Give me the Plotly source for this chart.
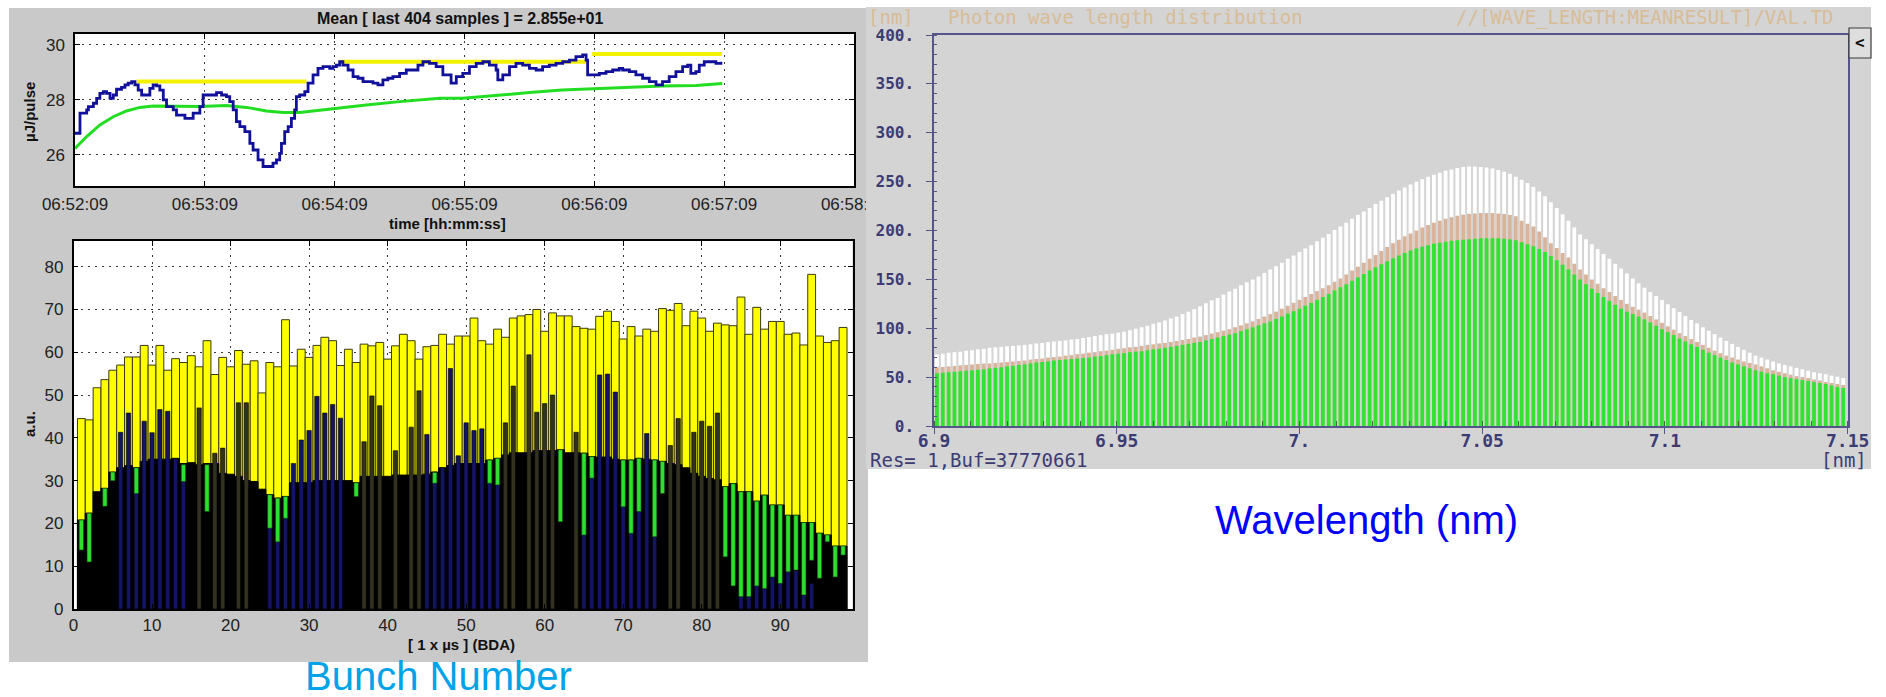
import plotly.graph_objects as go

W, H = 1886, 697

# ---------------- top-left: pulse energy vs. time ----------------
time_tick_sec = [0, 60, 120, 180, 240, 300, 360]
time_tick_lbl = ["06:52:09", "06:53:09", "06:54:09", "06:55:09", "06:56:09", "06:57:09", "06:58:09"]

blue_t = [0, 1.5, 2.3, 5.4, 6.2, 8.5, 10, 11.5, 13.1, 14.6, 16.2, 17.7, 19.2, 21.5, 23.1, 24.6, 26.2, 27.7,
          29.2, 30.8, 33.8, 34.6, 36.1, 37.7, 39.2, 40.8, 42.3, 45.4, 46.9, 49.2, 50.8, 53.1, 54.6, 57.7,
          59.2, 62.3, 65.4, 67.7, 70, 71.5, 73.1, 74.6, 76.2, 78.5, 80.8, 82.3, 84.6, 86.9, 90, 91.5, 93.1,
          94.6, 95.4, 96.9, 98.5, 100, 101.5, 102.3, 103.8, 106.2, 107.7, 110, 112.3, 114.6, 117.7, 119.2,
          120.8, 122.3, 123.8, 126.2, 128.5, 130.8, 133.1, 135.4, 137.7, 140, 142.3, 144.6, 146.9, 150,
          153.1, 156.1, 158.5, 160.8, 163.8, 166.9, 170, 173.8, 176.2, 179.2, 182.3, 185.4, 188.5, 191.5,
          194.6, 195.4, 197.7, 200.8, 203.8, 206.9, 210, 213.1, 216.1, 219.2, 222.3, 225.4, 228.5, 231.5,
          234.6, 236.2, 236.9, 239.2, 242.3, 245.4, 248.5, 251.5, 253.1, 256.2, 259.2, 262.3, 265.4, 268.5,
          271.5, 274.6, 277.7, 280.8, 283.1, 284.6, 286.9, 288.5, 290.8, 293.1, 296.2, 298.5]
blue_v = [26.79, 26.79, 27.52, 27.64, 27.76, 27.88, 28.06, 28.24, 28.3, 28.24, 28.06, 28.18, 28.39, 28.46,
          28.55, 28.61, 28.67, 28.55, 28.36, 28.18, 28.18, 28.42, 28.55, 28.51, 28.36, 28.0, 27.76, 27.64,
          27.45, 27.45, 27.33, 27.33, 27.52, 27.76, 28.18, 28.18, 28.27, 28.18, 28.12, 27.94, 27.64, 27.21,
          27.03, 26.85, 26.42, 26.18, 25.82, 25.58, 25.58, 25.7, 25.82, 26.06, 26.42, 26.85, 27.03, 27.33,
          27.64, 28.12, 28.18, 28.3, 28.61, 28.91, 29.15, 29.21, 29.15, 29.21, 29.27, 29.39, 29.27, 29.09,
          28.85, 28.79, 28.67, 28.67, 28.61, 28.55, 28.73, 28.79, 28.85, 28.97, 29.09, 29.09, 29.27, 29.39,
          29.33, 29.21, 28.91, 28.61, 28.85, 28.97, 29.21, 29.33, 29.39, 29.27, 29.09, 28.73, 28.91, 29.21,
          29.33, 29.27, 29.15, 29.09, 29.21, 29.27, 29.33, 29.39, 29.45, 29.58, 29.64, 29.45, 28.91, 28.91,
          28.97, 29.03, 29.09, 29.15, 29.09, 29.03, 28.91, 28.79, 28.67, 28.55, 28.67, 28.85, 29.03, 29.21,
          29.27, 28.97, 29.03, 29.27, 29.39, 29.39, 29.33, 29.39]

green_t = [0, 5.4, 11.5, 17.7, 23.8, 30, 36.1, 45.4, 57.7, 70, 79.2, 88.5, 96.2, 103.8, 113.1, 122.3,
           134.6, 150, 168.5, 179.1, 194.8, 210, 225.2, 240.9, 256.2, 271.4, 287.1, 299.1]
green_v = [26.24, 26.67, 27.09, 27.39, 27.6, 27.73, 27.78, 27.78, 27.76, 27.8, 27.73, 27.6, 27.54, 27.54,
           27.63, 27.72, 27.82, 27.94, 28.06, 28.06, 28.18, 28.27, 28.36, 28.42, 28.46, 28.51, 28.53, 28.6]

yel_start = [28.5, 122.3, 239.0]
yel_end = [107.0, 236.3, 299.0]
yel_val = [28.67, 29.39, 29.67]

# ---------------- bottom-left: per-bunch bars ----------------
bunch = list(range(1, 99))
bunch_max = [44.5, 44.2, 51.7, 53.6, 55.8, 57, 58.9, 58.9, 61.6, 57,
             61.6, 55.8, 58.5, 57.6, 59.2, 56.6, 62.7, 54.8, 58.8, 56.6,
             60.4, 57.2, 58, 50.5, 57.6, 56.6, 67.6, 56.8, 60.7, 58.8,
             61.6, 63.5, 62.7, 56.9, 60.7, 57.6, 61.9, 61.5, 62.3, 58.4,
             61.5, 64.2, 62.7, 58.4, 61.3, 61.6, 64.2, 61.9, 63.8, 63.8,
             68, 62.7, 61.9, 65.4, 63.5, 68, 68.5, 68.8, 70, 64.9,
             69.2, 68.5, 68.5, 66, 65.6, 65.4, 68.4, 69.6, 67.2, 63.1,
             66, 63.8, 65.4, 64.9, 70.2, 69.8, 71.4, 66.2, 69.6, 68,
             64.9, 66.8, 66.4, 66.2, 72.9, 64.2, 70.5, 65.4, 67.2, 67.2,
             64.2, 64.5, 61.7, 78.2, 63.8, 62.3, 62.7, 65.8]
bunch_base = [20.8, 22.4, 27.4, 28.2, 32, 33, 33.5, 33, 34.5, 35,
              35, 35, 35.2, 34, 34.2, 33.7, 34, 34, 31.7, 31.5,
              31, 30, 29.8, 28, 26.7, 25.9, 26.3, 29.5, 29.5, 29.5,
              30, 30, 30, 30, 30, 29.5, 31, 31, 31, 31,
              31.3, 31.3, 31.3, 31.3, 31.5, 32, 33, 33.5, 34, 34,
              34, 34, 34.8, 35.2, 36, 36.5, 36.5, 36.5, 37, 37,
              37, 37.2, 36.5, 36.5, 36.4, 35.6, 35.5, 35.5, 35, 34.8,
              34.8, 35.2, 35, 34.8, 34.5, 34, 33.7, 33, 31.7, 31,
              30.5, 30.2, 28.6, 29.3, 27.4, 27.4, 25.2, 26.6, 24.3, 24.3,
              21.9, 21.9, 20.2, 20.2, 17.7, 17.3, 14.7, 14.7]
bunch_narrow = [0, 0, 0, 0, 0, 41.3, 45.8, 33, 43.9, 41.2,
                46.6, 46.2, 35.2, 34, 0, 47, 0, 36.4, 37.6, 0,
                48.2, 48.2, 0, 0, 26.7, 25.9, 26.3, 34, 39.5, 41.7,
                49.7, 45.8, 47.8, 44.6, 0, 0, 39.1, 49.8, 47.5, 0,
                37, 0, 42.5, 51, 40.8, 32, 33, 56.2, 35.8, 43.5,
                41.7, 42.1, 34.8, 35.2, 43.5, 52.1, 0, 59.4, 46, 48,
                50, 0, 0, 41.3, 36.4, 35.6, 54.7, 54.9, 50.7, 34.8,
                34.8, 35.2, 41, 34.8, 0, 38.2, 44.5, 0, 41.3, 43.9,
                42.7, 45.8, 0, 0, 4, 4, 6, 5, 8, 7,
                9, 9, 4, 6, 0, 0, 0, 0]
navy_groups = [(6, 14), (25, 34), (45, 54), (65, 74), (85, 94)]
green_bunch = [1, 2, 4, 5, 8, 14, 17, 25, 26, 27, 36, 46, 53, 54, 62, 65, 66, 70, 71, 72, 74, 75,
               83, 84, 85, 86, 87, 88, 89, 90, 91, 92, 93, 94, 95, 96, 97, 98]
green_hi = [20.8, 22.4, 28.2, 32, 33, 33.7, 33.7, 26.7, 25.9, 26.3, 29.5, 31.9, 34.8, 35.2, 37.2, 36.4,
            35.6, 34.8, 34.8, 35.2, 34.8, 34.5, 28.6, 29.3, 27.4, 27.4, 25.2, 26.6, 24.3, 24.3, 21.9,
            21.9, 20.2, 20.2, 17.7, 17.3, 14.7, 14.7]
green_lo = [13.8, 11, 24, 30, 27, 29.8, 22.8, 18.9, 15.7, 21.2, 26.3, 29.4, 29.4, 29, 20.4, 17.3,
            30.6, 23.9, 17.7, 22.8, 16.9, 27, 12.2, 5.4, 2.9, 2.9, 5.4, 4.8, 7.5, 6, 8.7,
            9.1, 3.3, 11.4, 7.2, 15.7, 7.5, 12.6]

# ---------------- right: photon wavelength distribution ----------------
wl_start = 6.9008
wl_step = 0.0016
white_vals = [73, 74, 75, 75.5, 76, 77, 77.5, 78.5, 79, 80,
              80.5, 81, 81.5, 82, 82.5, 83, 83.5, 84.5, 85, 86,
              86.5, 87, 87.5, 88.5, 89, 90, 91, 92, 93, 94,
              94.5, 95.5, 96.5, 98, 99.5, 101, 102.5, 104.5, 106, 108,
              110, 112, 114.5, 117, 119.5, 122.5, 125.5, 128.5, 131, 134.5,
              137.5, 140.5, 144, 147, 150, 153, 156.5, 160, 163.5, 167,
              171, 174.5, 178, 181.5, 185, 189, 192.5, 196.5, 200.5, 204,
              208, 212, 216, 219.5, 223, 227, 230.5, 234, 237.5, 241,
              244, 247, 250, 252.5, 255, 257, 259, 261, 262.5, 264,
              265, 265.5, 265.5, 265, 264.5, 263.5, 262, 260, 258, 255,
              252, 248.5, 244.5, 240, 235, 229, 223, 216.5, 210, 203,
              196, 191, 186, 181, 176, 171, 166, 161, 156, 151,
              146, 141.5, 137, 133, 129, 124.5, 120.5, 116.5, 112.5, 108.5,
              105, 101, 97.5, 94, 90.5, 87, 84, 81, 78, 75,
              72, 70, 68, 66, 64, 62.5, 61, 59.5, 58, 56.5,
              55, 54, 53, 51.5, 50.5, 49]
tan_vals = [60, 60.5, 61, 61.5, 62, 62.5, 63, 63.5, 64, 64,
            64.5, 65, 65.5, 66, 66.5, 67, 68, 68.5, 69, 70,
            70.5, 71, 72, 72.5, 73.5, 74, 75, 75.5, 76.5, 77,
            78, 79, 79.5, 80.5, 81, 82, 83, 83.5, 84.5, 85,
            86, 87, 88, 89, 90.5, 91.5, 93, 94.5, 96, 97.5,
            99, 101, 103, 105, 107, 109.5, 112, 114.5, 117, 120,
            123, 126, 129, 132, 135, 138, 141, 144, 147.5, 151,
            155, 159, 163, 167, 171, 175, 179, 183, 187, 190.5,
            194, 197, 200, 203, 205.5, 208, 210, 212, 213.5, 215,
            216, 217, 217.5, 218, 218, 218, 217.5, 217, 216, 214.5,
            210, 207, 204, 199, 193, 187, 182, 177, 172.5, 166,
            160, 155, 150, 145.5, 141, 137, 133, 129, 125, 122,
            119, 116, 112.5, 109, 105.5, 102, 98.5, 95, 92, 89,
            86, 83, 80, 77, 74.5, 72, 70, 68, 66, 64.5,
            63, 61, 59, 57, 55.5, 54, 52.5, 51, 50, 49,
            47.5, 46.5, 45, 44, 43, 42]
grn_vals = [54, 54.5, 55, 55.5, 56, 56.5, 57, 57.5, 58, 59,
            59.5, 60, 61, 61.5, 62.5, 63, 64, 65, 65.5, 66,
            67, 67.5, 68, 68.5, 69, 69.5, 70, 71, 71.5, 72.5,
            73.5, 74, 74.5, 75.5, 76, 76.5, 77.5, 78.5, 79, 80,
            81, 82, 83, 84, 85, 86, 87.5, 89, 90.5, 92,
            93.5, 95, 97, 99, 101, 103, 105, 107, 109.5, 112,
            115, 117.5, 120, 123, 126, 129, 132, 135, 138.5, 142,
            145, 148.5, 152, 155.5, 159, 162.5, 165.5, 168.5, 171.5, 174.5,
            177, 179.5, 181.5, 183.5, 185, 186.5, 187.5, 188.5, 189.5, 190,
            190.5, 191, 191.5, 192, 192, 192, 192, 191.5, 191, 190,
            188, 186, 184, 181, 178, 174, 169.5, 165, 160, 155,
            150, 145, 140.5, 136, 132, 128, 124, 120, 117, 114.5,
            112, 109, 106, 102.5, 99, 96, 93, 89.5, 86.5, 83.5,
            81, 78, 75, 72.5, 70, 67.5, 65, 63, 61, 59,
            57, 55.5, 54, 53, 51.5, 50, 49, 48, 47, 46,
            45, 44, 43, 41.5, 40, 39]
y3_ticks = [0, 50, 100, 150, 200, 250, 300, 350, 400]


# ---------------- helpers (layout positions in px) ----------------
def dx(a, b):
    return [a / W, b / W]


def dy(top, bottom):
    return [1 - bottom / H, 1 - top / H]


def px(x):
    return x / W


def py(y):
    return 1 - y / H


fig = go.Figure()

# top-left traces
yx, yy = [], []
for s, e, v in zip(yel_start, yel_end, yel_val):
    yx += [s, e, None]
    yy += [v, v, None]
fig.add_trace(go.Scatter(x=yx, y=yy, mode="lines", line=dict(color="#f2f200", width=4),
                         xaxis="x", yaxis="y", hoverinfo="skip"))
fig.add_trace(go.Scatter(x=green_t, y=green_v, mode="lines", line=dict(color="#22dd22", width=3),
                         xaxis="x", yaxis="y", hoverinfo="skip"))
fig.add_trace(go.Scatter(x=blue_t, y=blue_v, mode="lines", line=dict(color="#10109a", width=2.8, shape="hv"),
                         xaxis="x", yaxis="y", hoverinfo="skip"))

# bottom-left traces (overlaid bars)
fig.add_trace(go.Bar(x=bunch, y=bunch_max, width=1.0, xaxis="x2", yaxis="y2",
                     marker=dict(color="#ffff00", line=dict(color="#3a3a10", width=1))))
fig.add_trace(go.Bar(x=bunch, y=bunch_base, width=1.0, xaxis="x2", yaxis="y2",
                     marker=dict(color="#000000", line=dict(color="#000000", width=1))))
narrow_colors = ["#141466" if any(a <= b <= c for a, c in navy_groups) else "#33311f" for b in bunch]
fig.add_trace(go.Bar(x=bunch, y=bunch_narrow, width=0.55, xaxis="x2", yaxis="y2",
                     marker=dict(color=narrow_colors, line=dict(color="#000000", width=0.6))))
fig.add_trace(go.Bar(x=green_bunch, y=[h - l for h, l in zip(green_hi, green_lo)], base=green_lo,
                     width=0.55, xaxis="x2", yaxis="y2",
                     marker=dict(color="#2ee02e", line=dict(color="#124412", width=0.6))))

# right traces
wl = [wl_start + wl_step * i for i in range(len(white_vals))]
fig.add_trace(go.Bar(x=wl, y=white_vals, width=0.00105, xaxis="x3", yaxis="y3",
                     marker=dict(color="#ffffff", line=dict(width=0))))
fig.add_trace(go.Bar(x=wl, y=tan_vals, width=0.00105, xaxis="x3", yaxis="y3",
                     marker=dict(color="#d9b49b", line=dict(width=0))))
fig.add_trace(go.Bar(x=wl, y=grn_vals, width=0.00105, xaxis="x3", yaxis="y3",
                     marker=dict(color="#33e333", line=dict(width=0))))

left_font = dict(family="Liberation Sans", size=17, color="#222222")
mono_tick = dict(family="DejaVu Sans Mono", size=18, color="#3c3c74", weight="bold")
mono_tick_y = dict(family="DejaVu Sans Mono", size=16, color="#3c3c74", weight="bold")
grid_common = dict(showgrid=True, gridcolor="#3a3a3a", gridwidth=1, griddash="2px,5px",
                   zeroline=False, showline=True, linecolor="black", linewidth=1.5,
                   ticks="inside", ticklen=5, tickcolor="black", mirror="ticks",
                   tickfont=left_font, fixedrange=True, automargin=False)

shapes = [
    dict(type="rect", xref="paper", yref="paper", layer="below", x0=px(9), x1=px(868), y0=py(662), y1=py(8),
         fillcolor="#c9c9c9", line=dict(width=0)),
    dict(type="rect", xref="paper", yref="paper", layer="below", x0=px(75), x1=px(854), y0=py(186), y1=py(34),
         fillcolor="#ffffff", line=dict(width=0)),
    dict(type="rect", xref="paper", yref="paper", layer="below", x0=px(73.5), x1=px(852.5), y0=py(609),
         y1=py(241), fillcolor="#ffffff", line=dict(width=0)),
    dict(type="rect", xref="paper", yref="paper", layer="below", x0=px(866), x1=px(1871), y0=py(469), y1=py(7),
         fillcolor="#d4d4d4", line=dict(width=0)),
    # right panel edge hides the overflowing last time label
    dict(type="rect", xref="paper", yref="paper", layer="above", x0=px(866), x1=px(900), y0=py(216),
         y1=py(190), fillcolor="#d4d4d4", line=dict(width=0)),
    # small "<" button
    dict(type="rect", xref="paper", yref="paper", layer="above", x0=px(1849), x1=px(1871), y0=py(58),
         y1=py(28), fillcolor="#dedede", line=dict(color="#3a3a3a", width=1.2)),
]


def ann(text, x, y, size, color, family="Liberation Sans", weight="normal", xanchor="center", angle=0):
    return dict(text=text, x=px(x), y=py(y), xref="paper", yref="paper", showarrow=False,
                xanchor=xanchor, yanchor="middle", textangle=angle,
                font=dict(family=family, size=size, color=color, weight=weight))


tan_txt = "#d8bc96"
annotations = [
    ann("Mean [ last 404 samples ] = 2.855e+01", 460, 19, 16, "#111111", weight="bold"),
    ann("time [hh:mm:ss]", 447, 223, 15, "#111111", weight="bold"),
    ann("µJ/pulse", 30, 112, 15, "#111111", weight="bold", angle=-90),
    ann("a.u.", 30, 424, 15, "#111111", weight="bold", angle=-90),
    ann("[ 1 x µs ] (BDA)", 461, 644, 15, "#111111", weight="bold"),
    ann("Bunch Number", 438, 676, 40, "#00a2e8"),
    ann("Wavelength (nm)", 1366, 520, 40, "#0000ff"),
    ann("[nm]", 866, 17, 19, tan_txt, family="DejaVu Sans Mono", xanchor="left"),
    ann("Photon wave length distribution", 946, 17, 19, tan_txt, family="DejaVu Sans Mono", xanchor="left"),
    ann("//[WAVE_LENGTH:MEANRESULT]/VAL.TD", 1836, 17, 19, tan_txt, family="DejaVu Sans Mono",
        xanchor="right"),
    ann("Res= 1,Buf=37770661", 868, 460, 19, "#3c3c74", family="DejaVu Sans Mono", xanchor="left"),
    ann("[nm]", 1869, 460, 19, "#3c3c74", family="DejaVu Sans Mono", xanchor="right"),
    ann("&lt;", 1860, 43, 16, "#111111", family="DejaVu Sans Mono", weight="bold"),
]

axis_r = "#55558a"
fig.update_layout(
    width=W, height=H, autosize=False,
    margin=dict(l=0, r=0, t=0, b=0, pad=0, autoexpand=False),
    paper_bgcolor="#ffffff", plot_bgcolor="rgba(0,0,0,0)",
    showlegend=False, barmode="overlay", hovermode=False,
    font=dict(family="Liberation Sans"),
    shapes=shapes, annotations=annotations,
    xaxis=dict(domain=dx(75, 854), range=[0, 360], anchor="y", tickmode="array",
               tickvals=time_tick_sec, ticktext=time_tick_lbl, ticklabelstandoff=2, **grid_common),
    yaxis=dict(domain=dy(34, 186), range=[24.87, 30.4], anchor="x", tickmode="array",
               tickvals=[26, 28, 30], ticklabelstandoff=5, **grid_common),
    xaxis2=dict(domain=dx(73.5, 852.5), range=[0, 99.2], anchor="y2", tickmode="array",
                tickvals=[0, 10, 20, 30, 40, 50, 60, 70, 80, 90], ticklabelstandoff=0, **grid_common),
    yaxis2=dict(domain=dy(241, 609), range=[0, 86], anchor="x2", tickmode="array",
                tickvals=[0, 10, 20, 30, 40, 50, 60, 70, 80], ticklabelstandoff=5, **grid_common),
    xaxis3=dict(domain=dx(934, 1848), range=[6.9, 7.1501], anchor="y3", tickmode="linear",
                tick0=6.9, dtick=0.05, labelalias={"7": "7."}, ticks="outside", ticklen=6,
                tickcolor=axis_r, showline=True, linecolor=axis_r, linewidth=1.5, mirror=True,
                showgrid=False, zeroline=False, tickfont=mono_tick, ticklabelstandoff=-8,
                minor=dict(ticks="inside", dtick=0.01, ticklen=5, tickcolor="#3c6a3c"),
                fixedrange=True, automargin=False),
    yaxis3=dict(domain=dy(35, 426), range=[0, 400], anchor="x3", tickmode="linear", tick0=0, dtick=50,
                labelalias={str(v): f"{v}." for v in y3_ticks}, ticks="outside", ticklen=6,
                tickcolor=axis_r, showline=True, linecolor=axis_r, linewidth=1.5, mirror=True,
                showgrid=False, zeroline=False, tickfont=mono_tick_y, ticklabelstandoff=9,
                minor=dict(ticks="inside", dtick=10, ticklen=3, tickcolor=axis_r),
                fixedrange=True, automargin=False),
)

# remove the browser's default page margin so the figure sits at the window's origin
fig.write_html("out.html", config={"displayModeBar": False},
               post_script="document.body.style.margin='0px';")
